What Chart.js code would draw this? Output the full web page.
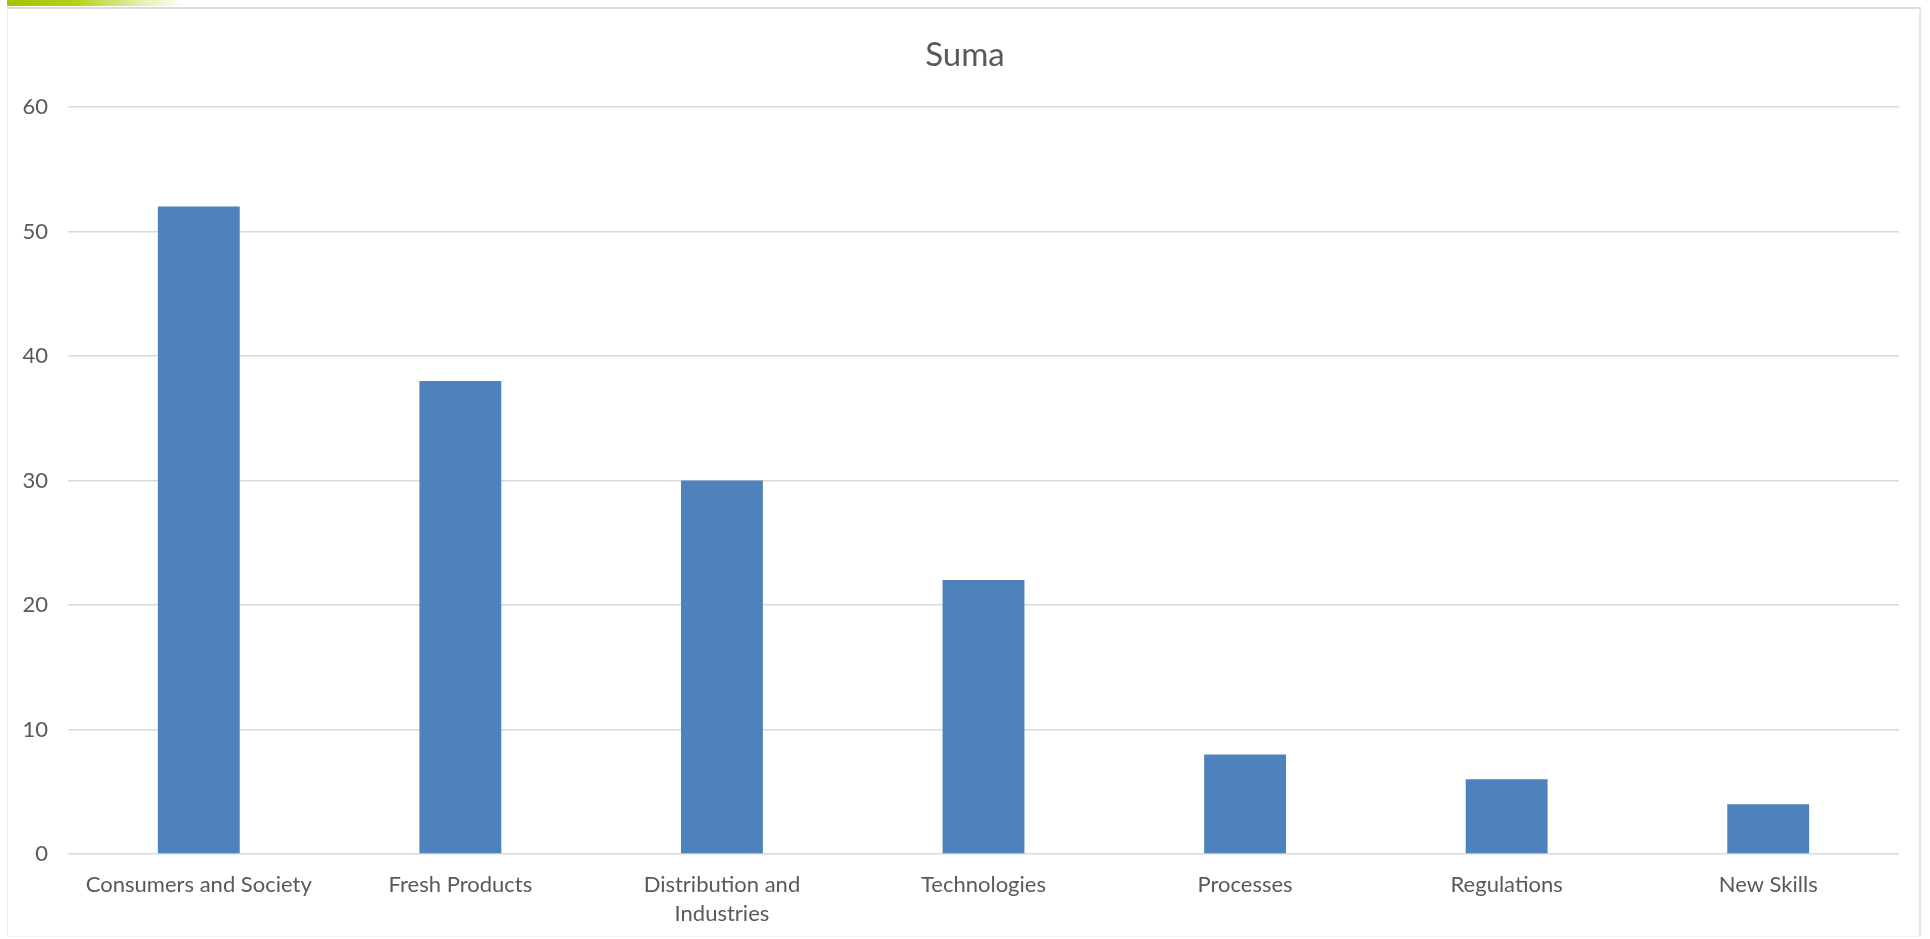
<!DOCTYPE html>
<html>
<head>
<meta charset="utf-8">
<script src="https://cdn.jsdelivr.net/npm/chart.js@4"></script>
<style>
  html, body { margin: 0; padding: 0; background: #ffffff; }
  body { width: 1930px; height: 939px; position: relative; overflow: hidden; }
  #frame {
    position: absolute; left: 7px; top: 7px; width: 1914px; height: 930px;
    border-left: 1px solid #f0f0f0; border-right: 2px solid #e6e6e6;
    border-top: 2px solid #dcdcdc; border-bottom: 1px solid #f2f2f2;
    box-sizing: border-box;
  }
  #accent {
    position: absolute; left: 7px; top: 0; width: 180px; height: 6px;
    background: linear-gradient(to right, #a6c200 0%, #b9d020 40%, #e8f0b0 75%, #ffffff 100%);
  }
  #wrap { position: absolute; left: 0; top: 0; width: 1930px; height: 939px; }
</style>
</head>
<body>
<div id="frame"></div>
<div id="accent"></div>
<div id="wrap"><canvas id="chart" width="1930" height="939"></canvas></div>
<script>
// Topic counts
const categories = [
  'Consumers and Society',
  'Fresh Products',
  ['Distribution and', 'Industries'],
  'Technologies',
  'Processes',
  'Regulations',
  'New Skills'
];
const sumaValues = [52, 38, 30, 22, 8, 6, 4];
const yTicks = [0, 10, 20, 30, 40, 50, 60];

const textColor = '#595959';
const fontFamily = 'Lato, "Open Sans", sans-serif';

new Chart(document.getElementById('chart'), {
  type: 'bar',
  data: {
    labels: categories,
    datasets: [{
      label: 'Suma',
      data: sumaValues,
      backgroundColor: '#4f81bd',
      borderWidth: 0,
      barPercentage: 1,
      categoryPercentage: 0.313
    }]
  },
  options: {
    responsive: false,
    animation: false,
    devicePixelRatio: 1,
    layout: { padding: 0 },
    plugins: {
      legend: { display: false },
      tooltip: { enabled: false },
      title: {
        display: true,
        text: 'Suma',
        color: textColor,
        font: { family: fontFamily, size: 33, weight: 'normal', lineHeight: 1.2 },
        padding: { top: 35.5, bottom: 31.9 }
      }
    },
    scales: {
      x: {
        grid: { display: false, drawTicks: false },
        border: { display: false },
        ticks: {
          color: textColor,
          padding: 16,
          maxRotation: 0,
          autoSkip: false,
          font: { family: fontFamily, size: 22, lineHeight: 1.32 }
        },
        afterFit: (scale) => { scale.height = 85; }
      },
      y: {
        min: yTicks[0],
        max: yTicks[yTicks.length - 1],
        afterBuildTicks: (scale) => { scale.ticks = yTicks.map(v => ({ value: v })); },
        grid: { color: '#d9d9d9', lineWidth: 1.5, drawTicks: false },
        border: { display: false },
        ticks: {
          color: textColor,
          padding: 20,
          font: { family: fontFamily, size: 22 }
        },
        afterFit: (scale) => { scale.width = 68; }
      },
      // empty right-hand margin so the plot ends short of the frame
      yRight: {
        position: 'right',
        grid: { display: false, drawTicks: false },
        border: { display: false },
        ticks: { display: false },
        afterFit: (scale) => { scale.width = 31; }
      }
    }
  }
});
</script>
</body>
</html>
